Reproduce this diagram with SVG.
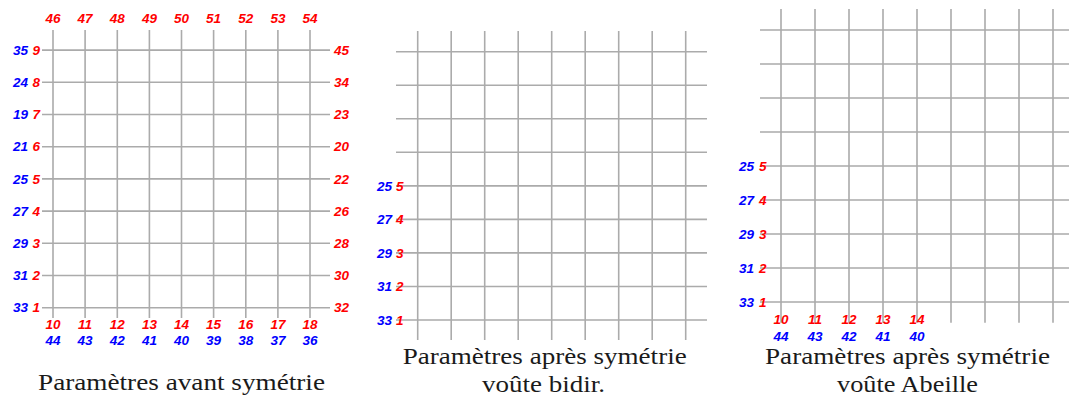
<svg xmlns="http://www.w3.org/2000/svg" width="1069" height="397" viewBox="0 0 1069 397">
<style>
.grid{stroke:#ababab;stroke-width:1.6;fill:none}
.lb{font-family:"Liberation Sans",Arial,sans-serif;font-size:13.5px;font-weight:700;font-style:italic}
.r{fill:#ff0000}
.b{fill:#0000ff}
.c{text-anchor:middle}
.e{text-anchor:end}
.cap{font-family:"Liberation Serif","DejaVu Serif",serif;font-size:23px;fill:#1a1a1a;text-anchor:middle}
</style>
<rect width="1069" height="397" fill="#ffffff"/>

<g id="panel-avant">
<path class="grid" d="M53 30V318M85.1 30V318M117.3 30V318M149.4 30V318M181.5 30V318M213.6 30V318M245.8 30V318M277.9 30V318M310 30V318
M42 307.7H330M42 275.5H330M42 243.3H330M42 211.1H330M42 178.9H330M42 146.7H330M42 114.5H330M42 82.3H330M42 50.1H330"/>
<g class="lb r c">
<text x="53" y="22.5">46</text><text x="85.1" y="22.5">47</text><text x="117.3" y="22.5">48</text><text x="149.4" y="22.5">49</text><text x="181.5" y="22.5">50</text><text x="213.6" y="22.5">51</text><text x="245.8" y="22.5">52</text><text x="277.9" y="22.5">53</text><text x="310" y="22.5">54</text>
<text x="53" y="329">10</text><text x="85.1" y="329">11</text><text x="117.3" y="329">12</text><text x="149.4" y="329">13</text><text x="181.5" y="329">14</text><text x="213.6" y="329">15</text><text x="245.8" y="329">16</text><text x="277.9" y="329">17</text><text x="310" y="329">18</text>
</g>
<g class="lb b c">
<text x="53" y="345">44</text><text x="85.1" y="345">43</text><text x="117.3" y="345">42</text><text x="149.4" y="345">41</text><text x="181.5" y="345">40</text><text x="213.6" y="345">39</text><text x="245.8" y="345">38</text><text x="277.9" y="345">37</text><text x="310" y="345">36</text>
</g>
<g class="lb r e">
<text x="40" y="312.4">1</text><text x="40" y="280.2">2</text><text x="40" y="248">3</text><text x="40" y="215.8">4</text><text x="40" y="183.6">5</text><text x="40" y="151.4">6</text><text x="40" y="119.2">7</text><text x="40" y="87">8</text><text x="40" y="54.8">9</text>
</g>
<g class="lb b e">
<text x="28" y="312.4">33</text><text x="28" y="280.2">31</text><text x="28" y="248">29</text><text x="28" y="215.8">27</text><text x="28" y="183.6">25</text><text x="28" y="151.4">21</text><text x="28" y="119.2">19</text><text x="28" y="87">24</text><text x="28" y="54.8">35</text>
</g>
<g class="lb r">
<text x="334" y="312.4">32</text><text x="334" y="280.2">30</text><text x="334" y="248">28</text><text x="334" y="215.8">26</text><text x="334" y="183.6">22</text><text x="334" y="151.4">20</text><text x="334" y="119.2">23</text><text x="334" y="87">34</text><text x="334" y="54.8">45</text>
</g>
<text class="cap" x="181.5" y="390" textLength="287" lengthAdjust="spacingAndGlyphs">Paramètres avant symétrie</text>
</g>

<g id="panel-bidir">
<path class="grid" d="M417.7 31V340M451.2 31V340M484.7 31V340M518.2 31V340M551.7 31V340M585.2 31V340M618.7 31V340M652.2 31V340M685.7 31V340
M396 51.7H707M396 85.2H707M396 118.8H707M396 152.3H707M396 185.9H707M396 219.4H707M396 252.9H707M396 286.5H707M396 320H707"/>
<g class="lb r e">
<text x="403.5" y="324.7">1</text><text x="403.5" y="291.2">2</text><text x="403.5" y="257.6">3</text><text x="403.5" y="224.1">4</text><text x="403.5" y="190.6">5</text>
</g>
<g class="lb b e">
<text x="392" y="324.7">33</text><text x="392" y="291.2">31</text><text x="392" y="257.6">29</text><text x="392" y="224.1">27</text><text x="392" y="190.6">25</text>
</g>
<text class="cap" x="544.7" y="364" textLength="284" lengthAdjust="spacingAndGlyphs">Paramètres après symétrie</text>
<text class="cap" x="543.5" y="392" textLength="123" lengthAdjust="spacingAndGlyphs">voûte bidir.</text>
</g>

<g id="panel-abeille">
<path class="grid" d="M781 9V322.7M815 9V322.7M849 9V322.7M883 9V322.7M917 9V322.7M951 9V322.7M985 9V322.7M1019 9V322.7M1053 9V322.7
M760 30H1069M760 64H1069M760 98H1069M760 132H1069M760 166H1069M760 200H1069M760 234H1069M760 268H1069M760 302H1069"/>
<g class="lb r e">
<text x="766.5" y="306.7">1</text><text x="766.5" y="272.7">2</text><text x="766.5" y="238.7">3</text><text x="766.5" y="204.7">4</text><text x="766.5" y="170.7">5</text>
</g>
<g class="lb b e">
<text x="754" y="306.7">33</text><text x="754" y="272.7">31</text><text x="754" y="238.7">29</text><text x="754" y="204.7">27</text><text x="754" y="170.7">25</text>
</g>
<g class="lb r c">
<text x="781" y="324.3">10</text><text x="815" y="324.3">11</text><text x="849" y="324.3">12</text><text x="883" y="324.3">13</text><text x="917" y="324.3">14</text>
</g>
<g class="lb b c">
<text x="781" y="341">44</text><text x="815" y="341">43</text><text x="849" y="341">42</text><text x="883" y="341">41</text><text x="917" y="341">40</text>
</g>
<text class="cap" x="907.5" y="364" textLength="285" lengthAdjust="spacingAndGlyphs">Paramètres après symétrie</text>
<text class="cap" x="907.5" y="392" textLength="141" lengthAdjust="spacingAndGlyphs">voûte Abeille</text>
</g>
</svg>
